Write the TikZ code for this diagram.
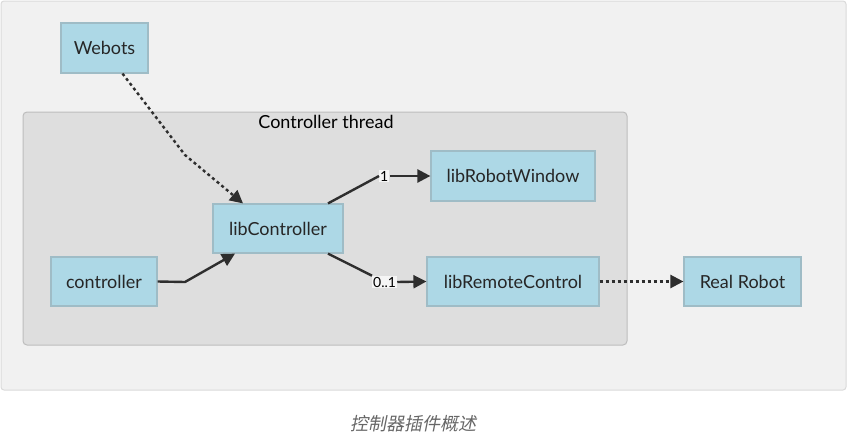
\documentclass[tikz,border=0pt]{standalone}
\usepackage{fontspec}
\setmainfont{Lato}
\newfontfamily\cjk[FakeSlant=0.2]{Noto Sans CJK SC}
\usetikzlibrary{arrows.meta}
\definecolor{panelbg}{HTML}{F1F1F1}
\definecolor{panelline}{HTML}{DADADA}
\definecolor{threadbg}{HTML}{DEDEDE}
\definecolor{threadline}{HTML}{BDBDBD}
\definecolor{boxfill}{HTML}{ADD8E6}
\definecolor{boxline}{HTML}{9FBCC6}
\definecolor{edgecol}{HTML}{2E2E2E}
\tikzset{
  box/.style={draw=boxline, fill=boxfill, line width=1.2pt, inner sep=0pt, font=\fontsize{18}{21}\selectfont, text=black!85},
  wire/.style={draw=edgecol, line width=2.4pt},
  link/.style={wire, -{Triangle[length=13pt,width=13pt]}},
  dotlink/.style={link, dash pattern=on 3pt off 3pt},
  mult/.style={fill=white!96!black, inner sep=1pt, font=\fontsize{14}{16}\selectfont}
}
\begin{document}
\begin{tikzpicture}[x=1pt,y=-1pt]
				\useasboundingbox (0,0) rectangle (848,439);
				\draw[panelline, fill=panelbg, rounded corners=3pt, line width=1pt] (1,1) rectangle (846,390);
				\draw[threadline, fill=threadbg, rounded corners=4pt, line width=1pt] (23,112) rectangle (627,345);
				\node[font=\fontsize{18}{21}\selectfont] (thread) at (326,122) {Controller thread};
				\node[box, minimum width=87pt, minimum height=50pt] (webots) at (104.5,48) {Webots};
				\node[box, minimum width=130pt, minimum height=49pt] (libctrl) at (278,228.5) {libController};
				\node[box, minimum width=106pt, minimum height=49pt] (ctrl) at (104,281.5) {controller};
				\node[box, minimum width=164pt, minimum height=50pt] (robotwin) at (513,176) {libRobotWindow};
				\node[box, minimum width=172pt, minimum height=49pt] (remote) at (513,281.5) {libRemoteControl};
				\node[box, minimum width=117pt, minimum height=49pt] (realrobot) at (742.5,281.5) {Real Robot};
				% connectors
				\coordinate (wbend) at (185,155);
				\coordinate (cbend) at (185,282);
				\draw[dotlink] (webots.south) ++(18,0) -- (wbend) -- ([xshift=-35pt]libctrl.north);
				\draw[link] (ctrl.east) -- (cbend) -- ([xshift=-43pt]libctrl.south);
				\node[mult, anchor=west] (m1) at (379,176) {1};
				\node[mult, anchor=west] (m2) at (372,282) {0..1};
				\draw[wire] ([xshift=50pt]libctrl.north) -- (m1.west);
				\draw[link] (m1.east) -- (robotwin.west);
				\draw[wire] ([xshift=50pt]libctrl.south) -- (m2.north west);
				\draw[link] (m2.east) -- (remote.west);
				\draw[dotlink] (remote.east) -- (realrobot.west);
				\node[text=black!60, font=\fontsize{18}{21}\selectfont\cjk] (caption) at (413,424) {控制器插件概述};
			\end{tikzpicture}
\end{document}
